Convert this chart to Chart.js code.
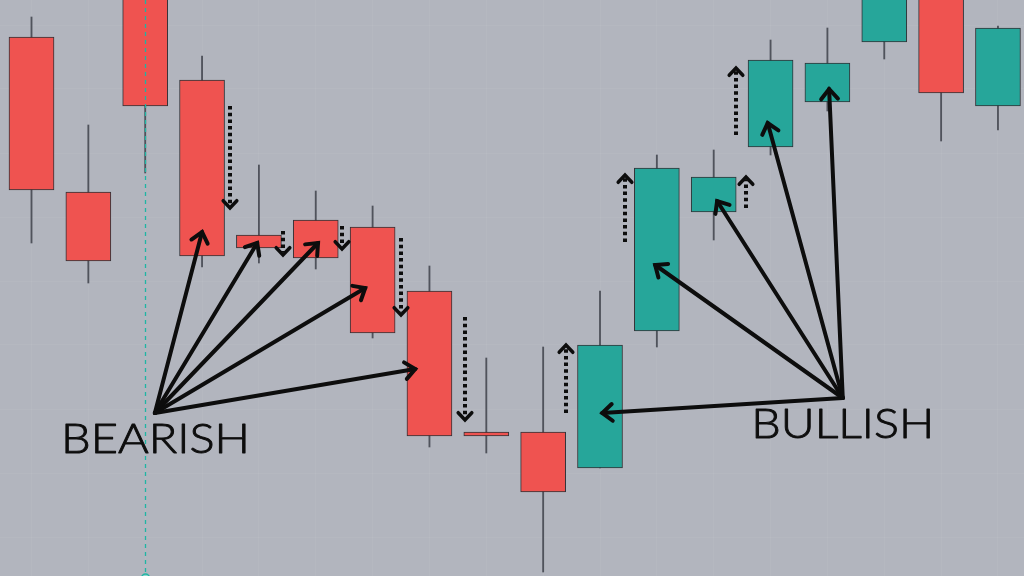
<!DOCTYPE html>
<html>
<head>
<meta charset="utf-8">
<title>Bearish / Bullish candles</title>
<script src="https://cdn.jsdelivr.net/npm/chart.js@4.4.1/dist/chart.umd.min.js"></script>
<style>
    html, body { margin: 0; padding: 0; background: #b2b5be; overflow: hidden; }
    #wrap { width: 1024px; height: 576px; }
</style>
</head>
<body>
<div id="wrap"><canvas id="candleChart"></canvas></div>
<script>
// Candle data (one entry per bar, left to right)
const candleIndex = [0, 1, 2, 3, 4, 5, 6, 7, 8, 9, 10, 11, 12, 13, 14, 15, 16, 17];
const openPrices  = [539, 384, 610, 496, 341, 356, 349, 285, 144, 144, 108, 245, 364, 429, 474, 534, 600, 470];
const closePrices = [386, 315, 470, 320, 328, 318, 243, 140, 140,  84, 231, 408, 399, 516, 513, 600, 483, 548];
const highPrices  = [559, 451, 630, 520, 411, 385, 370, 310, 218, 229, 285, 421, 426, 536, 548, 620, 620, 550];
const lowPrices   = [333, 293, 403, 309, 313, 307, 238, 129, 123,   4, 108, 229, 336, 421, 465, 517, 435, 446];

// Faint price grid levels
const gridLevels = [39, 103, 167, 231, 295, 359, 423, 487, 551];

// Annotations, in (candle index, price) terms
const crosshairIndex = 2;
const bearishOrigin = [2.17, 163];
const bearishTargets = [[3.00, 344], [3.97, 333], [5.04, 333], [5.87, 288], [6.75, 207]];
const bullishOrigin = [14.27, 178];
const bullishTargets = [[10.04, 163], [10.97, 311], [12.06, 375], [12.95, 453], [14.03, 487]];
// dotted move arrows: [index, from price, to price]
const moveArrows = [
    [3.49, 470, 368], [4.42, 345, 321], [5.46, 350, 327], [6.50, 338, 261], [7.62, 259, 156],
    [9.40, 163, 231], [10.44, 334, 401], [12.57, 368, 399], [12.39, 441, 508]
];
// labels: [text, left index, baseline price, width in px]
const textLabels = [['BEARISH', 0.52, 123, 189], ['BULLISH', 12.66, 138, 183]];

// Colors
const colors = {
    red: '#ef5350',
    teal: '#26a69a',
    crosshair: '#1fb5a4',
    wick: '#50535c',
    border: 'rgba(36, 36, 40, 0.9)',
    grid: 'rgba(255, 255, 255, 0.045)',
    ink: '#0d0d0d'
};

const bodyColors = openPrices.map((o, i) => closePrices[i] >= o ? colors.teal : colors.red);

// Draw an open chevron arrow head at (x2, y2)
function drawHead(ctx, x1, y1, x2, y2, len, spread) {
    const a = Math.atan2(y2 - y1, x2 - x1);
    ctx.beginPath();
    ctx.moveTo(x2 - len * Math.cos(a - spread), y2 - len * Math.sin(a - spread));
    ctx.lineTo(x2, y2);
    ctx.lineTo(x2 - len * Math.cos(a + spread), y2 - len * Math.sin(a + spread));
    ctx.stroke();
}

// Arrows, crosshair and words drawn over the candles
const annotationPlugin = {
    id: 'annotations',
    afterDatasetsDraw(chart) {
        const ctx = chart.ctx;
        const area = chart.chartArea;
        const px = v => chart.scales.x.getPixelForValue(v);
        const py = v => chart.scales.y.getPixelForValue(v);

        ctx.save();

        // dashed crosshair line
        const cx = Math.round(px(crosshairIndex)) + 0.5;
        ctx.strokeStyle = colors.crosshair;
        ctx.lineWidth = 1.3;
        ctx.setLineDash([4, 4]);
        ctx.beginPath();
        ctx.moveTo(cx, area.top);
        ctx.lineTo(cx, area.bottom);
        ctx.stroke();
        ctx.setLineDash([]);
        ctx.fillStyle = '#8fd3cb';
        ctx.lineWidth = 1.5;
        ctx.beginPath();
        ctx.arc(cx, area.bottom + 2, 4, 0, Math.PI * 2);
        ctx.fill();
        ctx.stroke();

        // solid fan arrows
        ctx.strokeStyle = colors.ink;
        ctx.lineWidth = 4;
        ctx.lineCap = 'round';
        ctx.lineJoin = 'miter';
        const fan = (origin, targets) => {
            const ox = px(origin[0]), oy = py(origin[1]);
            targets.forEach(t => {
                const tx = px(t[0]), ty = py(t[1]);
                ctx.beginPath();
                ctx.moveTo(ox, oy);
                ctx.lineTo(tx, ty);
                ctx.stroke();
                drawHead(ctx, ox, oy, tx, ty, 13, 0.7);
            });
        };
        fan(bearishOrigin, bearishTargets);
        fan(bullishOrigin, bullishTargets);

        // dotted move arrows
        moveArrows.forEach(m => {
            const x = Math.round(px(m[0]));
            const y1 = py(m[1]), y2 = py(m[2]);
            const dir = Math.sign(y2 - y1);
            ctx.lineCap = 'butt';
            ctx.lineWidth = 4;
            ctx.setLineDash([3.5, 3.2]);
            ctx.beginPath();
            ctx.moveTo(x, y1);
            ctx.lineTo(x, y2 - dir * 3);
            ctx.stroke();
            ctx.setLineDash([]);
            ctx.lineWidth = 3.5;
            ctx.lineCap = 'round';
            drawHead(ctx, x, y1, x, y2, 10, 0.75);
        });

        // words
        ctx.fillStyle = colors.ink;
        ctx.strokeStyle = colors.ink;
        ctx.lineWidth = 0.9;
        ctx.lineJoin = 'round';
        ctx.textBaseline = 'alphabetic';
        ctx.font = '300 42px "Lato", "Open Sans", sans-serif';
        textLabels.forEach(l => {
            const natural = ctx.measureText(l[0]).width;
            ctx.save();
            ctx.translate(px(l[1]), py(l[2]));
            ctx.scale(l[3] / natural, 1);
            ctx.fillText(l[0], 0, 0);
            ctx.strokeText(l[0], 0, 0);
            ctx.restore();
        });

        ctx.restore();
    }
};

// Build the candlestick chart from floating bars
function initCandleChart() {
    new Chart(document.getElementById('candleChart'), {
        type: 'bar',
        data: {
            datasets: [
                {
                    label: 'Wicks',
                    data: candleIndex.map(i => ({ x: i, y: [lowPrices[i], highPrices[i]] })),
                    backgroundColor: colors.wick,
                    borderWidth: 0,
                    maxBarThickness: 1.2,
                    barPercentage: 1,
                    categoryPercentage: 1,
                    grouped: false,
                    order: 2
                },
                {
                    label: 'Bodies',
                    data: candleIndex.map(i => ({ x: i, y: [openPrices[i], closePrices[i]] })),
                    backgroundColor: bodyColors,
                    borderColor: colors.border,
                    borderWidth: 1,
                    borderSkipped: false,
                    maxBarThickness: 45,
                    barPercentage: 1,
                    categoryPercentage: 1,
                    grouped: false,
                    order: 1
                }
            ]
        },
        options: {
            responsive: true,
            maintainAspectRatio: false,
            animation: false,
            events: [],
            layout: { padding: 0 },
            plugins: {
                legend: { display: false },
                tooltip: { enabled: false }
            },
            scales: {
                x: {
                    type: 'linear',
                    min: -0.554,
                    max: 17.458,
                    offset: false,
                    afterBuildTicks: scale => { scale.ticks = candleIndex.map(v => ({ value: v })); },
                    ticks: { display: false },
                    grid: { color: colors.grid, drawTicks: false, offset: false },
                    border: { display: false }
                },
                y: {
                    type: 'linear',
                    min: 0,
                    max: 576,
                    afterBuildTicks: scale => { scale.ticks = gridLevels.map(v => ({ value: v })); },
                    ticks: { display: false },
                    grid: { color: colors.grid, drawTicks: false },
                    border: { display: false }
                }
            }
        },
        plugins: [annotationPlugin]
    });
}

document.addEventListener('DOMContentLoaded', initCandleChart);
</script>
</body>
</html>
